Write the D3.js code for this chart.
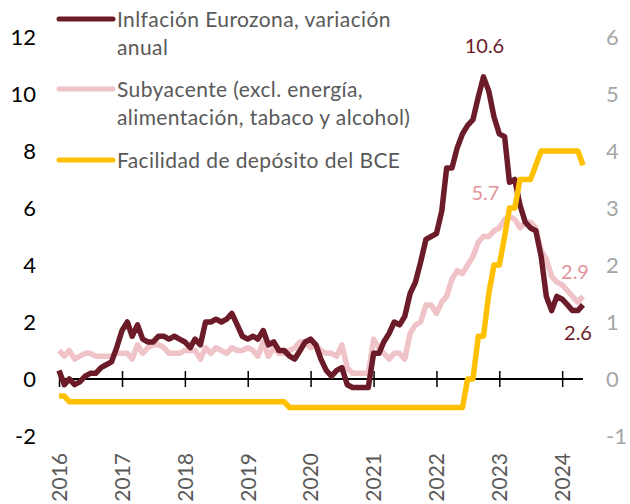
<!DOCTYPE html>
<html>
<head>
<meta charset="utf-8">
<script src="https://cdn.jsdelivr.net/npm/d3@7"></script>
<style>
  body { margin: 0; background: #fff; }
  svg { font-family: Lato, "Open Sans", sans-serif; }
</style>
</head>
<body>
<div id="chart"></div>
<script>
// monthly data, Jan 2016 - May 2024
var inflacion = [
  0.3, -0.2, 0.0, -0.2, -0.1, 0.1, 0.2, 0.2, 0.4, 0.5, 0.6, 1.1,
  1.7, 2.0, 1.5, 1.9, 1.4, 1.3, 1.3, 1.5, 1.5, 1.4, 1.5, 1.4,
  1.3, 1.1, 1.4, 1.2, 2.0, 2.0, 2.1, 2.0, 2.1, 2.3, 1.9, 1.5,
  1.4, 1.5, 1.4, 1.7, 1.2, 1.3, 1.0, 1.0, 0.8, 0.7, 1.0, 1.3,
  1.4, 1.2, 0.7, 0.3, 0.1, 0.3, 0.4, -0.2, -0.3, -0.3, -0.3, -0.3,
  0.9, 0.9, 1.3, 1.6, 2.0, 1.9, 2.2, 3.0, 3.4, 4.1, 4.9, 5.0,
  5.1, 5.9, 7.4, 7.4, 8.1, 8.6, 8.9, 9.1, 9.9, 10.6, 10.1, 9.2,
  8.6, 8.5, 6.9, 7.0, 6.1, 5.5, 5.3, 5.2, 4.3, 2.9, 2.4, 2.9,
  2.8, 2.6, 2.4, 2.4, 2.6
]
var subyacente = [
  1.0, 0.8, 1.0, 0.7, 0.8, 0.9, 0.9, 0.8, 0.8, 0.8, 0.8, 0.9,
  0.9, 0.9, 0.7, 1.2, 0.9, 1.1, 1.2, 1.2, 1.1, 0.9, 0.9, 0.9,
  1.0, 1.0, 1.0, 0.7, 1.1, 0.9, 1.1, 1.0, 0.9, 1.1, 1.0, 1.0,
  1.1, 1.0, 0.8, 1.3, 0.8, 1.1, 0.9, 0.9, 1.0, 1.1, 1.3, 1.3,
  1.1, 1.2, 1.0, 0.9, 0.9, 0.8, 1.2, 0.4, 0.2, 0.2, 0.2, 0.2,
  1.4, 1.1, 0.9, 0.7, 0.9, 0.9, 0.7, 1.6, 1.9, 2.0, 2.6, 2.6,
  2.3, 2.7, 2.9, 3.5, 3.8, 3.7, 4.0, 4.3, 4.8, 5.0, 5.0, 5.2,
  5.3, 5.6, 5.7, 5.6, 5.3, 5.5, 5.5, 5.3, 4.5, 4.2, 3.6, 3.4,
  3.3, 3.1, 2.9, 2.7, 2.9
]
var deposito = [
  -0.3, -0.3, -0.4, -0.4, -0.4, -0.4, -0.4, -0.4, -0.4, -0.4, -0.4, -0.4,
  -0.4, -0.4, -0.4, -0.4, -0.4, -0.4, -0.4, -0.4, -0.4, -0.4, -0.4, -0.4,
  -0.4, -0.4, -0.4, -0.4, -0.4, -0.4, -0.4, -0.4, -0.4, -0.4, -0.4, -0.4,
  -0.4, -0.4, -0.4, -0.4, -0.4, -0.4, -0.4, -0.4, -0.5, -0.5, -0.5, -0.5,
  -0.5, -0.5, -0.5, -0.5, -0.5, -0.5, -0.5, -0.5, -0.5, -0.5, -0.5, -0.5,
  -0.5, -0.5, -0.5, -0.5, -0.5, -0.5, -0.5, -0.5, -0.5, -0.5, -0.5, -0.5,
  -0.5, -0.5, -0.5, -0.5, -0.5, -0.5, 0.0, 0.0, 0.75, 0.75, 1.5, 2.0,
  2.0, 2.5, 3.0, 3.0, 3.5, 3.5, 3.5, 3.75, 4.0, 4.0, 4.0, 4.0,
  4.0, 4.0, 4.0, 4.0, 3.75
]
var years = [2016, 2017, 2018, 2019, 2020, 2021, 2022, 2023, 2024]
var leftTicks = [-2, 0, 2, 4, 6, 8, 10, 12]
var rightTicks = [-1, 0, 1, 2, 3, 4, 5, 6]
var legendLabels = [
  ['Inlfación Eurozona, variación', 'anual'],
  ['Subyacente (excl. energía,', 'alimentación, tabaco y alcohol)'],
  ['Facilidad de depósito del BCE']
]

var w = 630, h = 504
var cDark = '#6b1c28', cPink = '#f0c3c8', cGold = '#ffc000'

var months = d3.timeMonth.range(new Date(2016, 0, 1), new Date(2024, 5, 1))

var x = d3.scaleTime()
  .domain([new Date(2016, 0, 1), new Date(2024, 4, 1)])
  .range([59, 583])
var yL = d3.scaleLinear().domain([-2, 12]).range([436, 37])
var yR = d3.scaleLinear().domain([-1, 6]).range([436, 37])

var svg = d3.select('#chart').append('svg')
  .attr('width', w)
  .attr('height', h)

// x axis on zero line
var xAxis = svg.append('g')
  .attr('transform', 'translate(0,' + yL(0) + ')')
  .call(d3.axisBottom(x)
    .tickValues(years.map(function(y) { return new Date(y, 0, 1) }))
    .tickFormat(d3.timeFormat('%Y'))
    .tickSizeOuter(0))
xAxis.select('.domain').attr('stroke', '#000').attr('stroke-width', 2)
  .attr('d', 'M' + x.range()[0] + ',0H' + x.range()[1])
xAxis.selectAll('.tick line').attr('stroke', '#000').attr('stroke-width', 1.5)
  .attr('y1', -8).attr('y2', 8)
xAxis.selectAll('.tick text')
  .attr('transform', 'rotate(-90)')
  .attr('x', -74).attr('y', 0).attr('dy', '0.35em')
  .style('text-anchor', 'end')
  .style('font-size', '21px')
  .style('font-family', 'Lato, sans-serif')
  .attr('fill', '#595959')

// left axis
var lAxis = svg.append('g')
  .attr('transform', 'translate(36,0)')
  .call(d3.axisLeft(yL).tickValues(leftTicks)
    .tickFormat(function(d) { return String(d) })
    .tickSize(0).tickPadding(0))
lAxis.select('.domain').remove()
lAxis.selectAll('text').style('font-size', '22px').style('font-family', 'Lato, sans-serif').attr('fill', '#000')

// right axis
var rAxis = svg.append('g')
  .attr('transform', 'translate(606,0)')
  .call(d3.axisRight(yR).tickValues(rightTicks)
    .tickFormat(function(d) { return String(d) })
    .tickSize(0).tickPadding(0))
rAxis.select('.domain').remove()
rAxis.selectAll('text').style('font-size', '22px').style('font-family', 'Lato, sans-serif').attr('fill', '#a6a6a6')

var lineL = d3.line()
  .x(function(d, i) { return x(months[i]) })
  .y(function(d) { return yL(d) })
var lineR = d3.line()
  .x(function(d, i) { return x(months[i]) })
  .y(function(d) { return yR(d) })

svg.append('path').datum(subyacente)
  .attr('d', lineL).attr('fill', 'none')
  .attr('stroke', cPink).attr('stroke-width', 5.5).attr('stroke-linejoin', 'round')
svg.append('path').datum(inflacion)
  .attr('d', lineL).attr('fill', 'none')
  .attr('stroke', cDark).attr('stroke-width', 5.5).attr('stroke-linejoin', 'round')
svg.append('path').datum(deposito)
  .attr('d', lineR).attr('fill', 'none')
  .attr('stroke', cGold).attr('stroke-width', 5.5).attr('stroke-linejoin', 'round')

// annotations
var notes = [
  { t: '10.6', i: 81, v: 10.6, dx: 1, dy: -24, c: cDark },
  { t: '5.7', i: 86, v: 5.7, dx: -24, dy: -17, c: '#e3939b' },
  { t: '2.9', i: 100, v: 2.9, dx: -8, dy: -17, c: '#e3939b' },
  { t: '2.6', i: 100, v: 2.6, dx: -5, dy: 35, c: cDark }
]
svg.selectAll('.note')
  .data(notes)
  .enter().append('text')
  .attr('class', 'note')
  .attr('x', function(d) { return x(months[d.i]) + d.dx })
  .attr('y', function(d) { return yL(d.v) + d.dy })
  .attr('text-anchor', 'middle')
  .style('font-size', '20px')
  .attr('fill', function(d) { return d.c })
  .text(function(d) { return d.t })

// legend
var legColors = [cDark, cPink, cGold]
var legY = [19, 89, 160]
var leg = svg.selectAll('.leg')
  .data(legendLabels)
  .enter().append('g')
  .attr('class', 'leg')
  .attr('transform', function(d, i) { return 'translate(0,' + legY[i] + ')' })
leg.append('line')
  .attr('x1', 59).attr('x2', 113)
  .attr('stroke', function(d, i) { return legColors[i] })
  .attr('stroke-width', 5).attr('stroke-linecap', 'round')
leg.append('text')
  .attr('x', 117).attr('y', 8)
  .style('font-size', '21px')
  .style('letter-spacing', '0.4px')
  .attr('fill', '#595959')
  .selectAll('tspan')
  .data(function(d) { return d })
  .enter().append('tspan')
  .attr('x', 117)
  .attr('dy', function(d, i) { return i ? 28 : 0 })
  .text(function(d) { return d })
</script>
</body>
</html>
